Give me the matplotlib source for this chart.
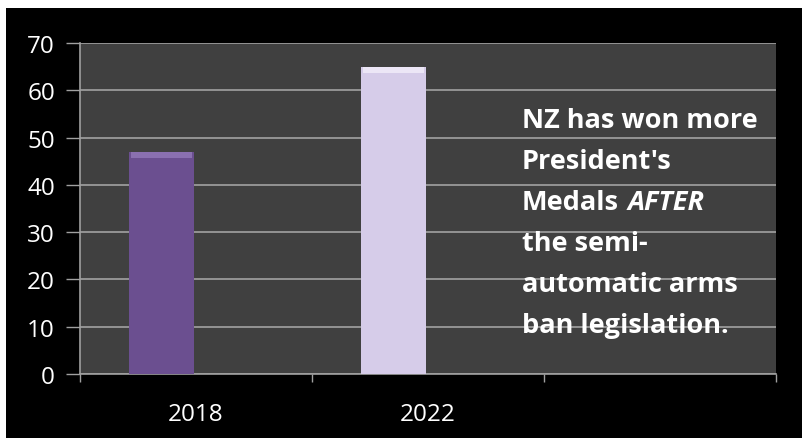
import matplotlib
matplotlib.use('Agg')
import matplotlib.pyplot as plt
from matplotlib.patches import Rectangle

# data
years = ['2018', '2022', '']
medals = [47, 65]
bar_colors = ['#6b4f90', '#d6cce9']
top_colors = ['#8a70b0', '#ece6f6']
note_lines = ["NZ has won more", "President's", "Medals",
              "the semi-", "automatic arms", "ban legislation."]
note_italic = "AFTER"

plt.rcParams['font.family'] = ['Open Sans', 'DejaVu Sans']

fig = plt.figure(figsize=(8.03, 4.39), dpi=100, facecolor='white')
# black slide background
fig.patches.append(Rectangle((6 / 803, 0), 1, 1 - 9 / 439, transform=fig.transFigure,
                             facecolor='black', edgecolor='none', zorder=-5))

ax = fig.add_axes([80 / 803, 1 - 375 / 439, 696 / 803, 331 / 439])
ax.set_facecolor('#404040')

w = 0.28
off = -0.148
for i, v in enumerate(medals):
    ax.bar(i + off, v, width=w, color=bar_colors[i], edgecolor='none', zorder=3)
    ax.bar(i + off, 1.3, bottom=v - 1.3, width=w * 0.94, color=top_colors[i],
           edgecolor='none', zorder=4)

ax.set_xlim(-0.5, 2.5)
ax.set_ylim(0, 70)
ax.set_yticks(range(0, 71, 10))
ax.set_xticks([-0.5, 0.5, 1.5, 2.5])
ax.set_xticklabels([])
ax.set_xticks(range(len(years)), labels=years, minor=True)
ax.tick_params(axis='x', which='minor', length=0, pad=20, labelsize=17.5, labelcolor='white')
ax.tick_params(axis='x', which='major', length=6, width=1, color='#a0a0a0', direction='out')
ax.tick_params(axis='y', length=10, width=1, color='#a0a0a0', labelsize=17.5,
               labelcolor='white', pad=8)
ax.grid(axis='y', color='#9a9a9a', linewidth=1.3, zorder=1)
for s in ['top', 'right']:
    ax.spines[s].set_visible(False)
for s in ['left', 'bottom']:
    ax.spines[s].set_color('#a0a0a0')
    ax.spines[s].set_linewidth(1.2)

y0 = 1 - 121 / 439
for k, line in enumerate(note_lines):
    t = fig.text(522 / 803, y0 - k * 41 / 439, line, color='white', fontsize=19.5,
                 fontweight='bold', va='center', ha='left')
    if line == "Medals":
        fig.canvas.draw()
        ax.annotate(note_italic, xy=(1, 0.5), xycoords=t, xytext=(6, 0),
                    textcoords='offset points', color='white', fontsize=19.5,
                    fontweight='bold', fontstyle='italic', va='center', ha='left')

fig.savefig('out.png', dpi=100, facecolor=fig.get_facecolor())
